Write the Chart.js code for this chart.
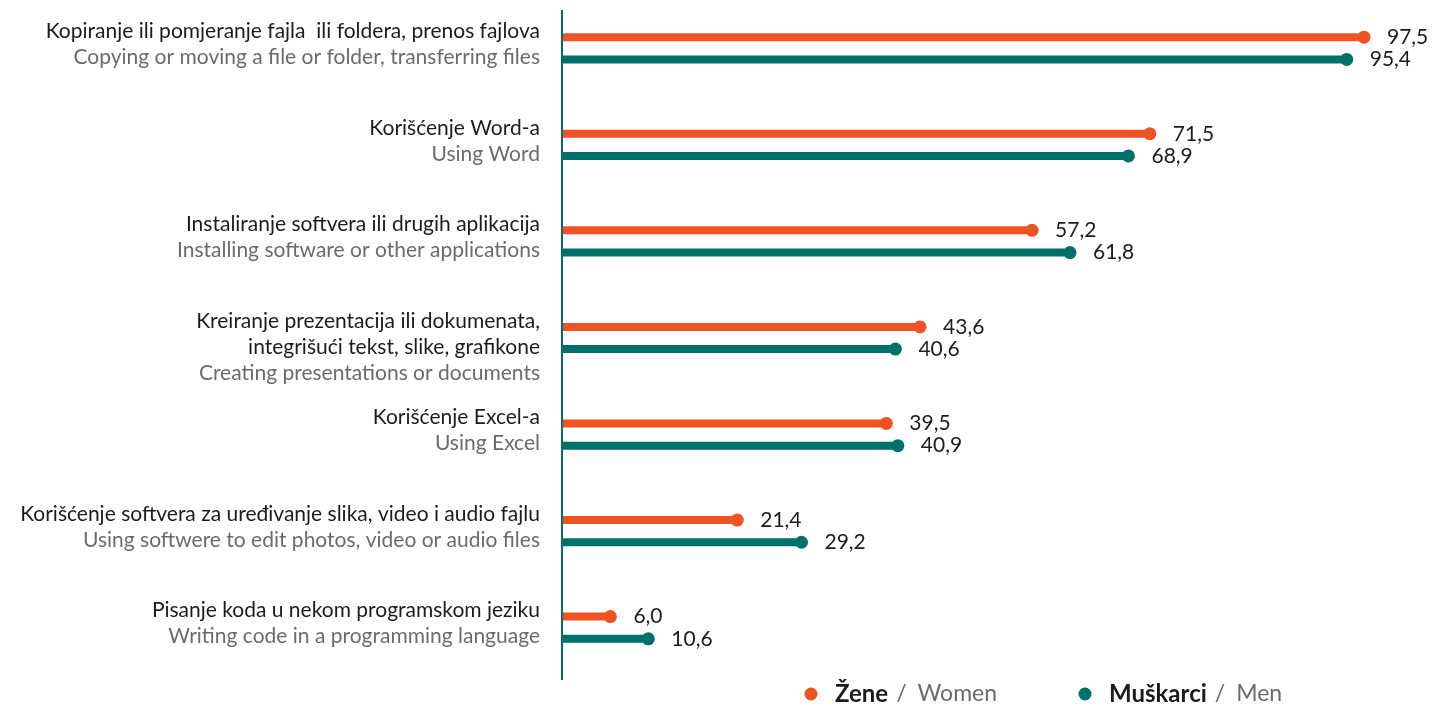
<!DOCTYPE html>
<html>
<head>
<meta charset="utf-8">
<script src="https://cdn.jsdelivr.net/npm/chart.js@4"></script>
<style>
  html, body { margin: 0; padding: 0; background: #fff; }
  #wrap { width: 1434px; height: 706px; }
</style>
</head>
<body>
<div id="wrap"><canvas id="lolliChart"></canvas></div>
<script>
const labelsLocal = [
  ['Kopiranje ili pomjeranje fajla  ili foldera, prenos fajlova'],
  ['Korišćenje Word-a'],
  ['Instaliranje softvera ili drugih aplikacija'],
  ['Kreiranje prezentacija ili dokumenata,', 'integrišući tekst, slike, grafikone'],
  ['Korišćenje Excel-a'],
  ['Korišćenje softvera za uređivanje slika, video i audio fajlu'],
  ['Pisanje koda u nekom programskom jeziku']
];
const labelsEnglish = [
  'Copying or moving a file or folder, transferring files',
  'Using Word',
  'Installing software or other applications',
  'Creating presentations or documents',
  'Using Excel',
  'Using softwere to edit photos, video or audio files',
  'Writing code in a programming language'
];
const women = [97.5, 71.5, 57.2, 43.6, 39.5, 21.4, 6.0];
const men = [95.4, 68.9, 61.8, 40.6, 40.9, 29.2, 10.6];

const ORANGE = '#f05323';
const TEAL = '#00706a';
const GREY = '#6b6b6b';
const INK = '#1c1c1c';
const FONT = 'Lato, "Noto Sans", sans-serif';

function fmt(v) {
  return v.toFixed(1).replace('.', ',');
}

// dots at the end of each bar + value label, category labels, axis line, legend
const lollipop = {
  id: 'lollipop',
  afterDatasetsDraw(chart) {
    const ctx = chart.ctx;
    ctx.save();
    chart.data.datasets.forEach((ds, di) => {
      const meta = chart.getDatasetMeta(di);
      meta.data.forEach((bar, i) => {
        ctx.fillStyle = ds.backgroundColor;
        ctx.beginPath();
        ctx.arc(bar.x, bar.y, 6.5, 0, Math.PI * 2);
        ctx.fill();
        ctx.fillStyle = INK;
        ctx.font = '21px ' + FONT;
        ctx.textAlign = 'left';
        ctx.textBaseline = 'middle';
        ctx.fillText(fmt(ds.data[i]), bar.x + 23, bar.y);
      });
    });
    ctx.restore();
  },
  afterDraw(chart) {
    const ctx = chart.ctx;
    const area = chart.chartArea;
    const yScale = chart.scales.y;
    ctx.save();

    ctx.strokeStyle = TEAL;
    ctx.lineWidth = 2;
    ctx.beginPath();
    ctx.moveTo(area.left + 1, area.top + 10);
    ctx.lineTo(area.left + 1, area.bottom + 4);
    ctx.stroke();

    ctx.font = '21px ' + FONT;
    ctx.textAlign = 'right';
    ctx.textBaseline = 'middle';
    labelsLocal.forEach((lines, i) => {
      const cy = yScale.getPixelForValue(i);
      let y = cy - 17;
      lines.forEach(line => {
        ctx.fillStyle = INK;
        ctx.fillText(line, area.left - 21, y);
        y += 26;
      });
      ctx.fillStyle = GREY;
      ctx.fillText(labelsEnglish[i], area.left - 21, y);
    });

    const legendY = 694;
    const items = [
      { color: ORANGE, bold: 'Žene', rest: 'Women', x: 811 },
      { color: TEAL, bold: 'Muškarci', rest: 'Men', x: 1085 }
    ];
    ctx.textAlign = 'left';
    items.forEach(it => {
      ctx.fillStyle = it.color;
      ctx.beginPath();
      ctx.arc(it.x, legendY, 6.5, 0, Math.PI * 2);
      ctx.fill();
      let x = it.x + 24;
      ctx.font = 'bold 24px ' + FONT;
      ctx.fillStyle = INK;
      ctx.fillText(it.bold, x, legendY);
      x += ctx.measureText(it.bold).width + 8;
      ctx.font = '23px ' + FONT;
      ctx.fillStyle = GREY;
      ctx.fillText('/', x, legendY);
      x += ctx.measureText('/').width + 11;
      ctx.fillText(it.rest, x, legendY);
    });
    ctx.restore();
  }
};

const ctx = document.getElementById('lolliChart').getContext('2d');
const myChart = new Chart(ctx, {
  type: 'bar',
  data: {
    labels: labelsEnglish,
    datasets: [
      { label: 'Žene / Women', data: women, backgroundColor: ORANGE, borderWidth: 0 },
      { label: 'Muškarci / Men', data: men, backgroundColor: TEAL, borderWidth: 0 }
    ]
  },
  options: {
    indexAxis: 'y',
    responsive: true,
    maintainAspectRatio: false,
    animation: false,
    categoryPercentage: 0.46,
    barPercentage: 0.36,
    layout: { padding: { top: 0, bottom: 30, left: 0, right: 0 } },
    plugins: {
      legend: { display: false },
      tooltip: { enabled: false }
    },
    scales: {
      x: {
        display: false,
        min: 0,
        max: 106
      },
      y: {
        afterFit(scale) { scale.width = 561; },
        ticks: { display: false },
        grid: { display: false },
        border: { display: false }
      }
    }
  },
  plugins: [lollipop]
});
</script>
</body>
</html>
